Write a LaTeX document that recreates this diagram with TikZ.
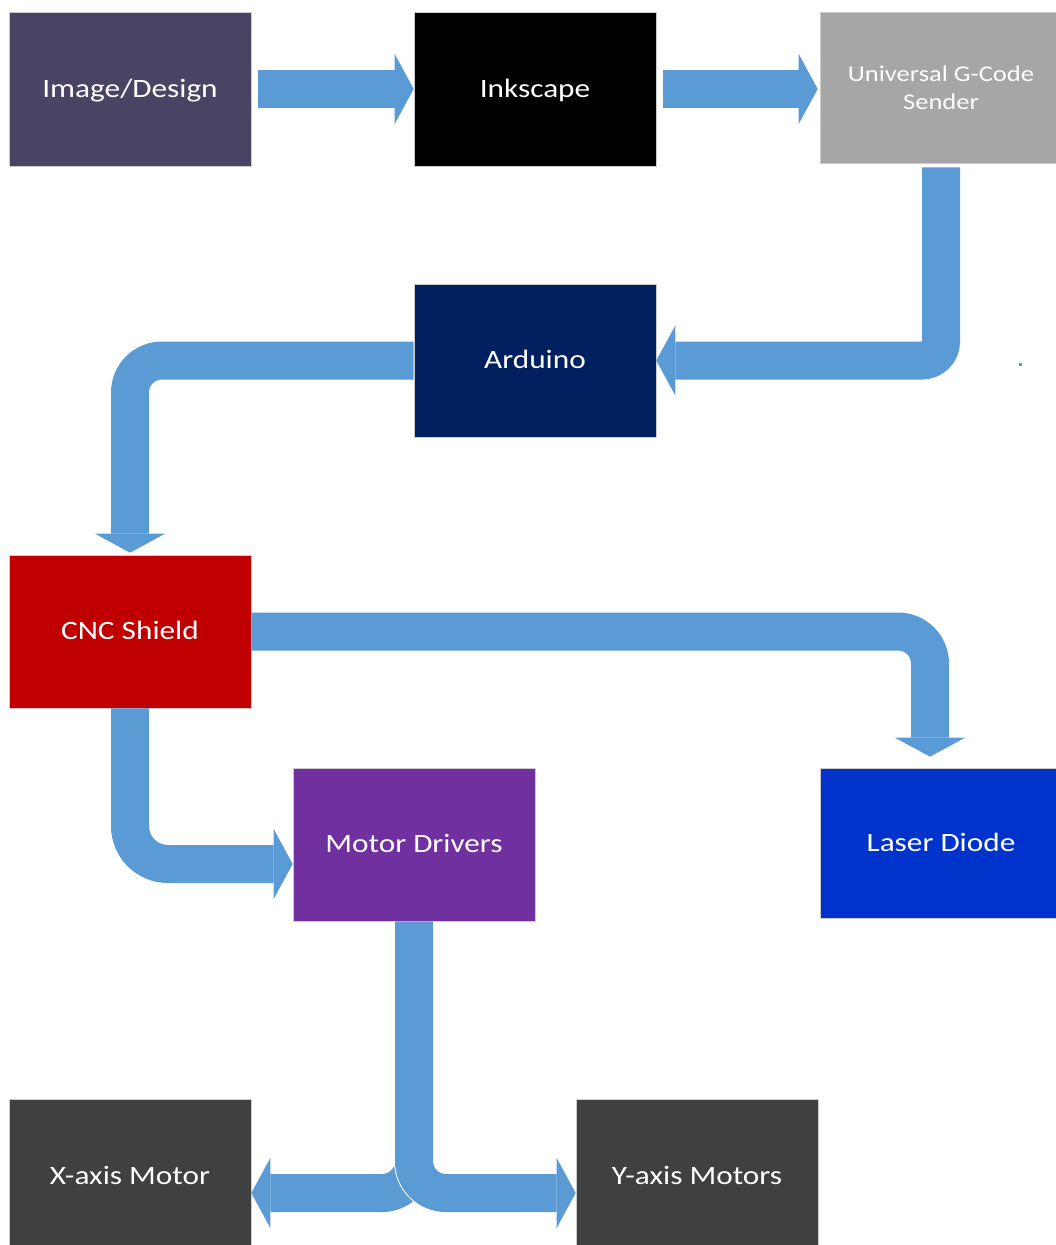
\documentclass[tikz,border=0pt]{standalone}
\usepackage{fontspec}
\newfontfamily\boxfont{Carlito}[FakeStretch=1.18]
\usetikzlibrary{arrows.meta,calc}
\definecolor{designcol}{HTML}{4B4363}
\definecolor{ugscol}{HTML}{A6A6A6}
\definecolor{arduinocol}{HTML}{002060}
\definecolor{shieldcol}{HTML}{C00000}
\definecolor{drivercol}{HTML}{7030A0}
\definecolor{lasercol}{HTML}{0033CC}
\definecolor{motorcol}{HTML}{404040}
\definecolor{flowblue}{HTML}{5B9BD5}
\tikzset{
  block/.style={minimum width=242pt, minimum height=154pt, inner sep=0pt,
    text=white, draw=black!20, line width=0.6pt, align=center,
    text height=18pt, text depth=2pt,
    font=\boxfont\fontsize{26.5}{31}\selectfont},
  flow/.style={draw=flowblue, line width=38pt,
    -{Triangle[width=70pt,length=19pt,line width=0pt]}}
}
\begin{document}
\begin{tikzpicture}[x=1pt,y=-1pt]
\useasboundingbox (0,0) rectangle (1055,1245);
%% the blocks, top row first
    \node[block, fill=designcol] (design) at (130,89) {Image/Design};
    \node[block, fill=black] (inkscape) at (535,89) {Inkscape};
    \node[block, fill=ugscol, minimum height=151pt, text height=, text depth=, font=\boxfont\fontsize{22.5}{28}\selectfont] (ugs) at (941,87.5) {Universal G-Code\\Sender};
    \node[block, fill=arduinocol, minimum height=153pt] (arduino) at (535,360.5) {Arduino};
    \node[block, fill=shieldcol, minimum height=153pt] (shield) at (130,631.5) {CNC Shield};
    \node[block, fill=drivercol, minimum height=153pt] (drivers) at (414,844.5) {Motor Drivers};
    \node[block, fill=lasercol, minimum height=150pt] (laser) at (941,843) {Laser Diode};
    \node[block, fill=motorcol] (xmotor) at (130,1176) {X-axis Motor};
    \node[block, fill=motorcol] (ymotor) at (697,1176) {Y-axis Motors};
%% the fat arrows between them
    \draw[flow, shorten <=7pt] (design.east) -- (inkscape.west);
    \draw[flow, shorten <=7pt, shorten >=2pt] (inkscape.east) -- (ugs.west |- inkscape.east);
    \draw[flow, rounded corners=19pt, shorten <=4pt] (ugs.south) |- (arduino.east);
    \draw[flow, rounded corners=32pt, shorten >=2pt] (arduino.west) -| (shield.north);
    \draw[flow, rounded corners=32pt, shorten >=11pt] (shield.east) -| ($(laser.north)+(-11,0)$);
    \draw[flow, rounded corners=38pt] (shield.south) |- ($(drivers.west)+(0,19.5)$);
%% split under the motor drivers, right branch goes on top
    \draw[flow, rounded corners=32pt] (drivers.south) |- ($(xmotor.east)+(0,17)$);
    \draw[white, line width=40pt, rounded corners=32pt] (drivers.south) |- ($(ymotor.west)+(-60,17)$);
    \draw[flow, rounded corners=32pt] (drivers.south) |- ($(ymotor.west)+(0,17)$);
%% stray dot
    \fill[flowblue] (1018.5,362.5) rectangle (1021.5,365.5);
\end{tikzpicture}
\end{document}
